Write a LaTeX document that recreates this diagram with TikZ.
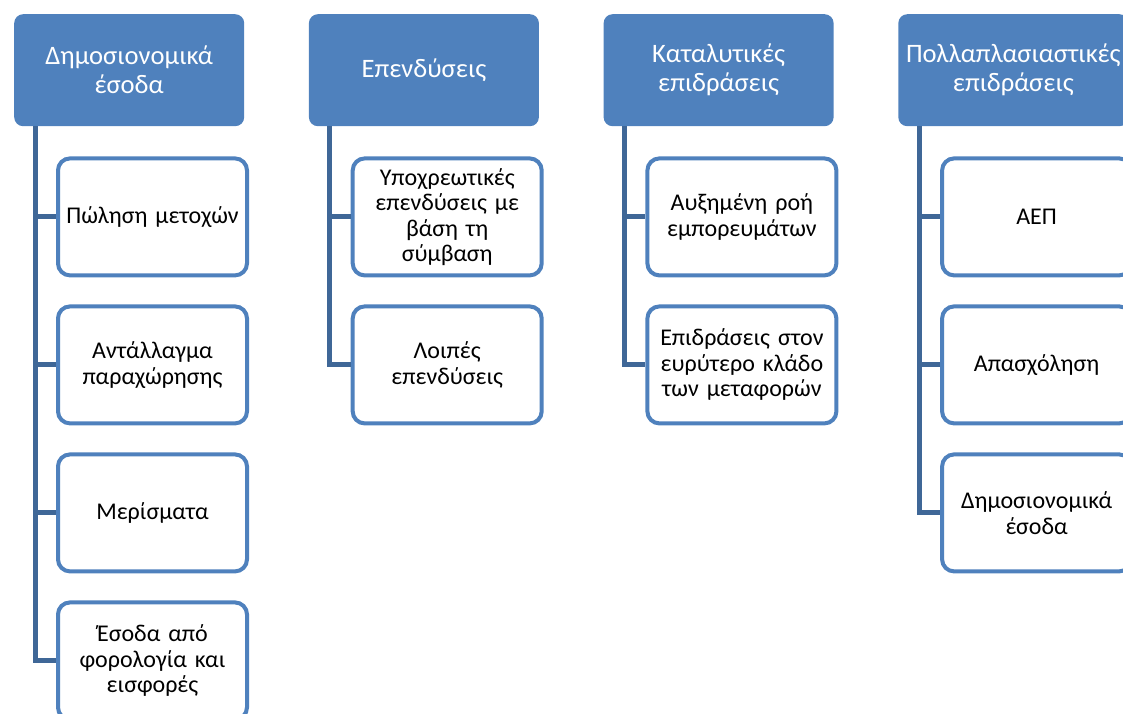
\documentclass[tikz,border=0pt]{standalone}
\usepackage{fontspec}
\setmainfont{Carlito}
\usetikzlibrary{positioning}
\definecolor{headblue}{HTML}{4F81BD}
\definecolor{linkblue}{HTML}{3F6797}
\tikzset{
	head/.style={rectangle, fill=headblue, text=white, rounded corners=9pt,
		minimum width=230pt, minimum height=112pt, text width=226pt, align=center,
		inner sep=0pt, font=\fontsize{26.6}{29}\selectfont},
	item/.style={rectangle, draw=headblue, line width=4pt, fill=white, rounded corners=12pt,
		minimum width=189pt, minimum height=117pt, text width=186pt, align=center,
		inner sep=0pt, font=\fontsize{24}{25.5}\selectfont},
	link/.style={draw=linkblue, line width=5pt}
}

\begin{document}
\begin{tikzpicture}
	\clip (0,0) rectangle (1123pt,-713pt);
	
	% Place headers
	\node [head, anchor=north west] at (14pt,-14pt)	(fiscal)	{Δημοσιονομικά\\έσοδα};
	\node [head, right=64.3pt of fiscal]			(invest)	{Επενδύσεις};
	\node [head, right=64.3pt of invest]			(catalytic)	{Καταλυτικές\\επιδράσεις};
	\node [head, right=64.3pt of catalytic]		(multiplier)	{Πολλαπλασιαστικές\\επιδράσεις};
	
	% Place items
	\node [item, below right=30pt and 42pt of fiscal.south west]	(shares)		{Πώληση μετοχών};
	\node [item, below=27pt of shares]							(concession)	{Αντάλλαγμα\\παραχώρησης};
	\node [item, below=27pt of concession]						(dividends)		{Μερίσματα};
	\node [item, below=27pt of dividends]						(taxes)			{Έσοδα από\\φορολογία και\\εισφορές};
	
	\node [item, below right=30pt and 42pt of invest.south west]	(mandatory)		{Υποχρεωτικές\\επενδύσεις με\\βάση τη\\σύμβαση};
	\node [item, below=27pt of mandatory]						(otherinv)		{Λοιπές\\επενδύσεις};
	
	\node [item, below right=30pt and 42pt of catalytic.south west]	(flow)		{Αυξημένη ροή\\εμπορευμάτων};
	\node [item, below=27pt of flow]							(transport)		{Επιδράσεις στον\\ευρύτερο κλάδο\\των μεταφορών};
	
	\node [item, below right=30pt and 42pt of multiplier.south west]	(gdp)		{ΑΕΠ};
	\node [item, below=27pt of gdp]								(jobs)			{Απασχόληση};
	\node [item, below=27pt of jobs]							(revenue)		{Δημοσιονομικά\\έσοδα};
	
	% Trunks
	\coordinate (fiscal trunk)		at ([xshift=21pt]fiscal.south west);
	\coordinate (invest trunk)		at ([xshift=21pt]invest.south west);
	\coordinate (catalytic trunk)	at ([xshift=21pt]catalytic.south west);
	\coordinate (multiplier trunk)	at ([xshift=21pt]multiplier.south west);
	
	% Draw edges
	\draw [link] (fiscal trunk) |- (taxes.west);
	\foreach \n in {shares, concession, dividends}
		\draw [link] (fiscal trunk |- \n.west) -- (\n.west);
	
	\draw [link] (invest trunk) |- (otherinv.west);
	\draw [link] (invest trunk |- mandatory.west) -- (mandatory.west);
	
	\draw [link] (catalytic trunk) |- (transport.west);
	\draw [link] (catalytic trunk |- flow.west) -- (flow.west);
	
	\draw [link] (multiplier trunk) |- (revenue.west);
	\foreach \n in {gdp, jobs}
		\draw [link] (multiplier trunk |- \n.west) -- (\n.west);
	
\end{tikzpicture}
\end{document}
